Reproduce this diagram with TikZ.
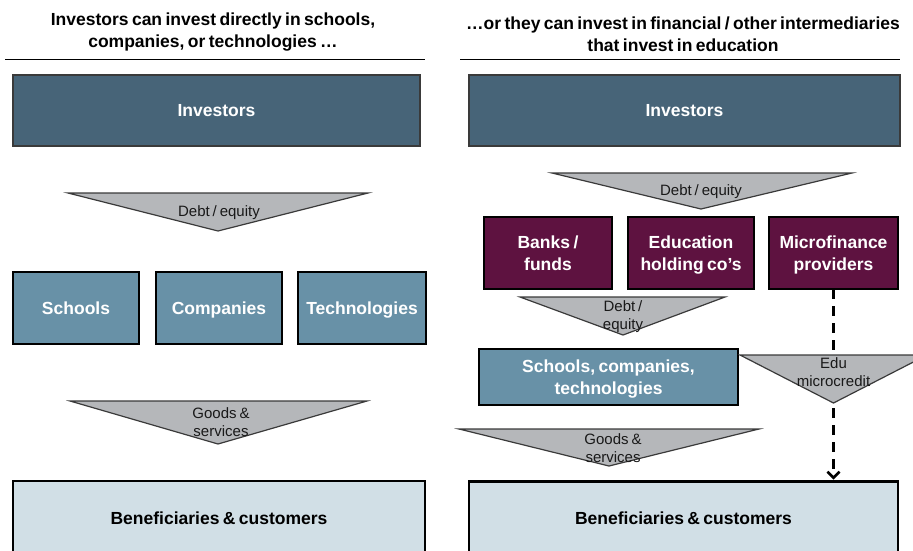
\documentclass[tikz,border=0pt]{standalone}
\usepackage{fontspec}
\setmainfont[WordSpace=0.7]{Liberation Sans}
\usetikzlibrary{arrows.meta}
\definecolor{invc}{HTML}{476478}
\definecolor{bluec}{HTML}{6891A7}
\definecolor{purc}{HTML}{5E1240}
\definecolor{benc}{HTML}{D1DFE6}
\definecolor{tric}{HTML}{B5B7BA}
\definecolor{edgec}{HTML}{3A3A3A}
\newcommand{\bxstrut}{\rule[-4.2pt]{0pt}{20.8pt}}
\newcommand{\lbstrut}{\rule[-3.6pt]{0pt}{18pt}}
\begin{document}
\begin{tikzpicture}[x=1pt,y=-1pt,
  hdr/.style={font=\fontsize{17.5}{22}\selectfont\bfseries, align=center, inner sep=0},
  boxbase/.style={font=\fontsize{17.5}{22}\selectfont\bfseries, align=center, inner sep=0, outer sep=0},
  onebox/.style={execute at begin node=\bxstrut, execute at end node=\bxstrut},
  boxtext/.style={boxbase, text=white},
  invbox/.style={boxbase, draw=edgec, line width=1.3pt, fill=invc, text=white},
  bluebox/.style={boxbase, draw=black, line width=2.8pt, fill=bluec, text=white},
  purbox/.style={boxbase, draw=black, line width=2.8pt, fill=purc, text=white},
  benbox/.style={boxbase, draw=black, line width=2.8pt, fill=benc, text=black},
  tri/.style={draw=edgec, line width=1.2pt, fill=tric, line join=miter},
  lbl/.style={font=\fontsize{15}{18}\selectfont, align=center, inner sep=0, text=black!90},
  onelbl/.style={execute at begin node=\lbstrut, execute at end node=\lbstrut},
  rule/.style={draw=black, line width=0.9pt},
  dashline/.style={draw=black, line width=3.2pt, dash pattern=on 10pt off 7pt, -{Straight Barb[length=6pt,width=12pt,line width=2.6pt]}}
]
\useasboundingbox (0,0) rectangle (913,550);
\clip (0,0) rectangle (913,550);

% headers
\node[hdr] (hL) at (213,32.5) {Investors can invest directly in schools,\\companies, or technologies \dots};
\node[hdr] (hR) at (683,34) {\dots or they can invest in financial / other intermediaries\\that invest in education};
\coordinate (rL1) at (5,59); \coordinate (rL2) at (425,59);
\coordinate (rR1) at (460,59); \coordinate (rR2) at (900,59);
\draw[rule] (rL1) -- (rL2);
\draw[rule] (rR1) -- (rR2);

% left side
\node[invbox, onebox, minimum width=407pt, minimum height=71pt] (invL) at (216.5,110.5) {Investors};
\draw[tri] (68,193) -- (368,193) -- (218,231) -- cycle;
\node[lbl, onelbl] (deL) at (219,211) {Debt / equity};
\node[bluebox, onebox, minimum width=126pt, minimum height=72pt] (sch) at (76,308) {Schools};
\node[bluebox, onebox, minimum width=126pt, minimum height=72pt] (com) at (219,308) {Companies};
\node[bluebox, onebox, minimum width=128pt, minimum height=72pt] (tec) at (362,308) {Technologies};
\draw[tri] (70,401) -- (367,401) -- (218,444) -- cycle;
\node[lbl] (gsL) at (221,422) {Goods \&\\services};
\node[benbox, onebox, minimum width=412pt, minimum height=74pt] (benL) at (219,518) {Beneficiaries \& customers};

% right side
\node[invbox, onebox, minimum width=431pt, minimum height=71pt] (invR) at (684.5,110.5) {Investors};
\draw[tri] (552,173) -- (852,173) -- (701,209) -- cycle;
\node[lbl, onelbl] (deR) at (701,190) {Debt / equity};
\node[purbox, minimum width=128pt, minimum height=72pt] (bank) at (548,253) {Banks /\\funds};
\node[purbox, minimum width=126pt, minimum height=72pt] (edu) at (691,253) {};
\node[boxtext] (eduT) at (691,255) {Education\\holding co’s};
\node[purbox, minimum width=129pt, minimum height=72pt] (mf) at (833.5,253) {};
\node[boxtext] (mfT) at (833.5,255) {Microfinance\\providers};
\draw[tri] (520,297) -- (725,297) -- (623,335) -- cycle;
\node[lbl] (de2) at (623,316.5) {Debt /\\equity};
\node[bluebox, minimum width=259pt, minimum height=56pt] (sct) at (608.5,377) {};
\node[boxtext] (sctT) at (608.5,379.5) {Schools, companies,\\technologies};
\draw[tri] (459,429) -- (759,429) -- (609,466) -- cycle;
\node[lbl] (gsR) at (613,448) {Goods \&\\services};
\node[benbox, onebox, minimum width=429pt, minimum height=74pt] (benR) at (683.5,518.5) {Beneficiaries \& customers};

% dashed microcredit path
\draw[dashline, shorten >=2pt] (mf.south) -- (mf.south |- benR.north);
\draw[tri] (740,355) -- (927,355) -- (833.5,403) -- cycle;
\node[lbl] (mc) at (833.5,372.5) {Edu\\microcredit};
\end{tikzpicture}
\end{document}
